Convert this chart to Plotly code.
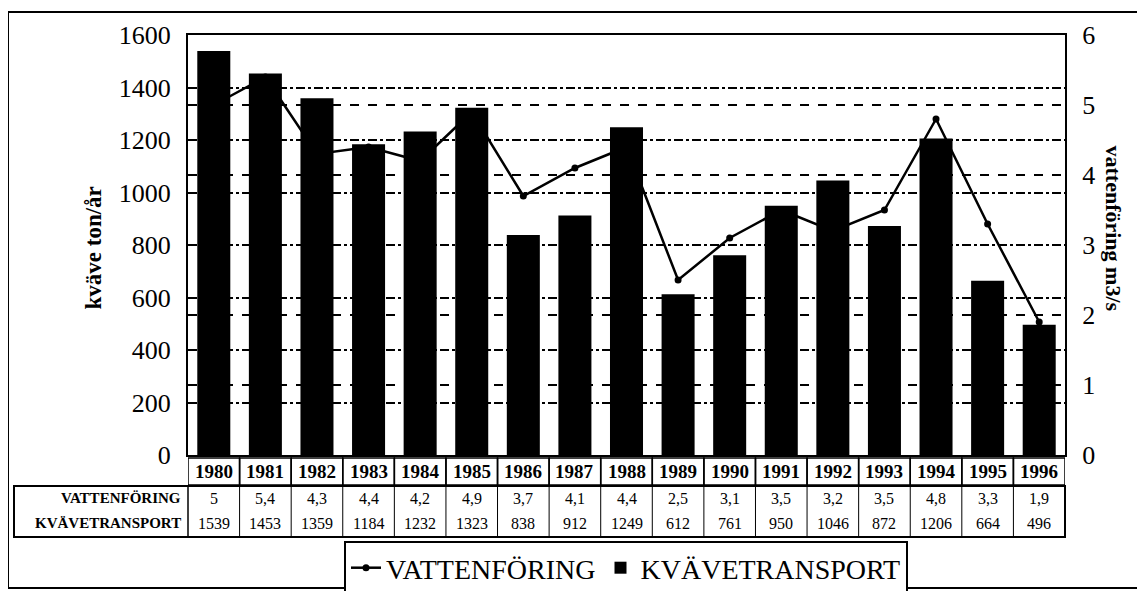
import plotly.graph_objects as go

years = [1980, 1981, 1982, 1983, 1984, 1985, 1986, 1987, 1988, 1989, 1990,
         1991, 1992, 1993, 1994, 1995, 1996]
vattenforing = [5, 5.4, 4.3, 4.4, 4.2, 4.9, 3.7, 4.1, 4.4, 2.5, 3.1,
                3.5, 3.2, 3.5, 4.8, 3.3, 1.9]
kvavetransport = [1539, 1453, 1359, 1184, 1232, 1323, 838, 912, 1249, 612, 761,
                  950, 1046, 872, 1206, 664, 496]
row_labels = ["VATTENFÖRING", "KVÄVETRANSPORT"]

# the page body adds an 8px margin; work in screen pixels and convert
OFF = 8
W, H = 1145 - OFF, 591 - OFF
PLOT_L, PLOT_R, PLOT_T, PLOT_B = 188, 1065, 35, 455  # screen pixels
ML = PLOT_L - OFF
MR = W - (PLOT_R - OFF)
MT = PLOT_T - OFF
MB = H - (PLOT_B - OFF)
PW, PH = W - ML - MR, H - MT - MB


def py(pix):
    return (PLOT_B - pix) / PH


def px(pix):
    return (pix - PLOT_L) / PW


FONT = "Liberation Serif"

fig = go.Figure()
fig.add_trace(go.Scatter(
    x=years, y=vattenforing, name="VATTENFÖRING", yaxis="y2",
    mode="lines+markers", line=dict(color="black", width=2.5),
    marker=dict(color="black", size=7)))
fig.add_trace(go.Bar(
    x=years, y=kvavetransport, name="KVÄVETRANSPORT",
    marker=dict(color="black", line=dict(width=0)), width=0.64))

shapes = []
annotations = []

# year header row
yr_top, yr_bot = py(458), py(485)
for yv in years:
    shapes.append(dict(type="rect", xref="x", yref="paper",
                       x0=yv - 0.5, x1=yv + 0.5, y0=yr_bot, y1=yr_top,
                       line=dict(color="black", width=1.5)))
    annotations.append(dict(x=yv, y=(yr_top + yr_bot) / 2, xref="x", yref="paper",
                            text=f"<b>{yv}</b>", showarrow=False, yanchor="middle",
                            font=dict(family=FONT, size=19, color="black")))

# data table
t_top, t_bot = py(486), py(537)
shapes.append(dict(type="rect", xref="paper", yref="paper", x0=px(14), x1=1.0,
                   y0=t_bot, y1=t_top, line=dict(color="black", width=2)))
shapes.append(dict(type="line", xref="paper", yref="paper", x0=0, x1=0,
                   y0=t_bot, y1=t_top, line=dict(color="black", width=1.5)))
for yv in years[1:]:
    shapes.append(dict(type="line", xref="x", yref="paper", x0=yv - 0.5, x1=yv - 0.5,
                       y0=t_bot, y1=t_top, line=dict(color="black", width=1)))
rows = [vattenforing, kvavetransport]
centers = [py(498), py(523)]
for lab, vals, cy in zip(row_labels, rows, centers):
    annotations.append(dict(x=px(183), y=cy, xref="paper", yref="paper",
                            text=f"<b>{lab}</b>", showarrow=False, xanchor="right",
                            yanchor="middle",
                            font=dict(family=FONT, size=15, color="black")))
    for yv, v in zip(years, vals):
        txt = str(v).replace(".", ",")
        annotations.append(dict(x=yv, y=cy, xref="x", yref="paper",
                                text=txt, showarrow=False, yanchor="middle",
                                font=dict(family=FONT, size=16, color="black")))

# outer border
shapes.append(dict(type="rect", xref="paper", yref="paper", x0=px(8), x1=px(1152),
                   y0=py(588), y1=py(12), line=dict(color="black", width=2)))

# axis titles
annotations.append(dict(x=px(78), y=py(248), xref="paper", yref="paper",
                        text="<b>kväve ton/år</b>", textangle=-90, showarrow=False,
                        font=dict(family=FONT, size=23, color="black")))
annotations.append(dict(x=px(1128), y=py(228), xref="paper", yref="paper",
                        text="<b>vattenföring m3/s</b>", textangle=90, showarrow=False,
                        font=dict(family=FONT, size=22, color="black")))

fig.update_layout(
    width=W, height=H,
    margin=dict(l=ML, r=MR, t=MT, b=MB, autoexpand=False),
    paper_bgcolor="white", plot_bgcolor="white",
    font=dict(family=FONT, color="black"),
    showlegend=True,
    legend=dict(orientation="h", x=px(626), xanchor="center", y=py(541), yanchor="top",
                bordercolor="black", borderwidth=2, bgcolor="white",
                font=dict(family=FONT, size=28, color="black"),
                itemwidth=30, traceorder="normal", tracegroupgap=0),
    xaxis=dict(range=[1979.5, 1996.5], showticklabels=False, ticks="",
               showgrid=False, showline=True, linecolor="black", linewidth=2,
               mirror=True, zeroline=False),
    yaxis=dict(range=[0, 1600], dtick=200, tickfont=dict(family=FONT, size=26),
               ticks="", ticklabelstandoff=10,
               showgrid=True, gridcolor="black", griddash="dashdot", gridwidth=1.5,
               showline=True, linecolor="black", linewidth=2, zeroline=False),
    yaxis2=dict(range=[0, 6], dtick=1, overlaying="y", side="right",
                tickfont=dict(family=FONT, size=26), ticks="", ticklabelstandoff=10,
                showgrid=True, gridcolor="black", griddash="dash",
                gridwidth=1.5, showline=True, linecolor="black", linewidth=2,
                zeroline=False),
    shapes=shapes, annotations=annotations,
)

fig.write_html("out.html")
